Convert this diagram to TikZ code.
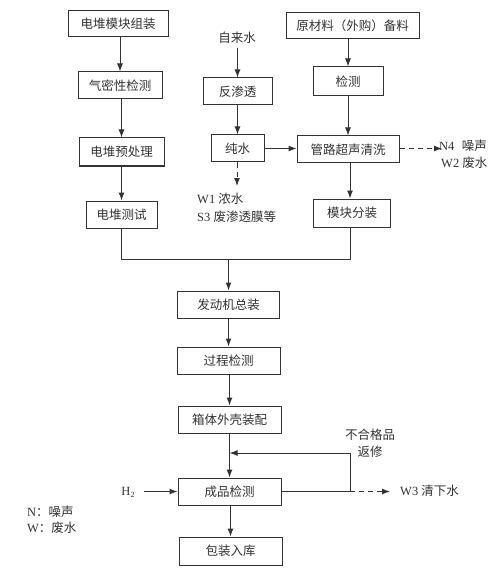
\documentclass[tikz,border=0pt]{standalone}
\usepackage{fontspec}
\setmainfont{Liberation Serif}
\newfontfamily\cjk{Noto Sans CJK SC}
\usetikzlibrary{arrows.meta}
\definecolor{linec}{HTML}{333333}
\definecolor{textc}{HTML}{333333}
\begin{document}
\begin{tikzpicture}[x=1pt,y=-1pt,
  box/.style={draw=linec, line width=1pt, inner sep=0pt, text=textc, font=\cjk\fontsize{12.5}{14}\selectfont},
  lbl/.style={inner sep=0pt, text=textc, font=\fontsize{12.5}{14}\selectfont},
  cl/.style={inner sep=0pt, text=textc, font=\cjk\fontsize{12.5}{14}\selectfont},
  arr/.style={draw=linec, line width=1pt, -{Latex[length=8pt,width=6pt]}},
  ln/.style={draw=linec, line width=1pt},
  dsh/.style={arr, dash pattern=on 5pt off 4pt}]
\useasboundingbox (0,0) rectangle (500,572);
\fill[white] (0,0) rectangle (500,572);
% left column
\node[box, minimum width=100pt, minimum height=26pt] (a) at (118,24) {电堆模块组装};
\node[box, minimum width=84pt, minimum height=27pt] (b) at (120,85.5) {气密性检测};
\node[box, minimum width=85pt, minimum height=28pt] (c) at (121.5,152) {电堆预处理};
\node[box, minimum width=71pt, minimum height=27pt] (d) at (121.5,214.5) {电堆测试};
% middle column
\node[cl] (tap) at (237,38) {自来水};
\node[box, minimum width=69pt, minimum height=27pt] (e) at (237.5,91.5) {反渗透};
\node[box, minimum width=53pt, minimum height=27pt] (f) at (237.5,148.5) {纯水};
\coordinate (fdown) at (237,186);
\node[lbl, anchor=west] (w1) at (197,199) {W1 {\cjk 浓水}};
\node[lbl, anchor=west] (s3) at (197,217) {S3 {\cjk 废渗透膜等}};
% right column
\node[box, minimum width=133pt, minimum height=26pt] (g) at (352.5,26) {原材料（外购）备料};
\node[box, minimum width=70pt, minimum height=29pt] (h) at (348,81.5) {检测};
\node[box, minimum width=102pt, minimum height=27pt] (i) at (348,149.5) {管路超声清洗};
\node[box, minimum width=77pt, minimum height=28pt] (j) at (352,213) {模块分装};
\coordinate (iout) at (442,148.5);
\node[lbl, anchor=west] (n4) at (439,146) {N4\hspace{0.6em}{\cjk 噪声}};
\node[lbl, anchor=west] (w2) at (441,163) {W2 {\cjk 废水}};
% main column
\node[box, minimum width=102pt, minimum height=27pt] (k) at (228.5,304.5) {发动机总装};
\node[box, minimum width=103pt, minimum height=27pt] (l) at (228.5,360.5) {过程检测};
\node[box, minimum width=103pt, minimum height=27pt] (m) at (229.5,419.5) {箱体外壳装配};
\node[box, minimum width=103pt, minimum height=27pt] (n) at (229.5,491.5) {成品检测};
\node[box, minimum width=103pt, minimum height=28pt] (o) at (230.5,551) {包装入库};
% merge
\coordinate (mL) at (121,259);
\coordinate (mR) at (350,259);
\coordinate (mC) at (228.5,259);
% feedback
\coordinate (fb) at (350,491.5);
\coordinate (fbt) at (350,453);
\coordinate (fbl) at (229.5,453);
\coordinate (w3e) at (390,491.5);
\node[lbl, anchor=west] (w3) at (400,491) {W3 {\cjk 清下水}};
\node[cl] (bh1) at (370,435) {不合格品};
\node[cl] (bh2) at (370,452) {返修};
\node[lbl] (h2) at (128,492) {H\raisebox{-0.35ex}{\fontsize{8}{8}\selectfont 2}};
\coordinate (h2e) at (144,491.5);
\node[cl, anchor=west] (lg1) at (27,512) {{\fontfamily{\rmdefault}\selectfont N}：噪声};
\node[cl, anchor=west] (lg2) at (27,528) {{\fontfamily{\rmdefault}\selectfont W}：废水};
% connectors
\draw[arr] (a.south -| b.north) -- (b.north);
\draw[arr] (b.south -| c.north) -- (c.north);
\draw[arr] (c.south -| d.north) -- (d.north);
\draw[arr] (tap.south -| e.north) ++(0,4) -- (e.north);
\draw[arr] (e.south -| f.north) -- (f.north);
\draw[dsh] (f.south -| fdown) -- (fdown);
\draw[arr] (g.south -| h.north) -- (h.north);
\draw[arr] (h.south) -- (i.north);
\draw[arr] (f.east) -- (f.east -| i.west);
\draw[dsh] (i.east |- iout) -- (iout);
\draw[arr] (i.south -| mR) -- (j.north -| mR);
\draw[ln] (d.south -| mL) -- (mL) -- (mR) -- (j.south -| mR);
\draw[arr] (mC) -- (k.north);
\draw[arr] (k.south) -- (l.north);
\draw[arr] (l.south -| m.north) -- (m.north);
\draw[arr] (m.south) -- (n.north);
\draw[arr] (n.south -| o.north) -- (o.north);
\draw[ln] (n.east) -- (fb);
\draw[arr] (fb) -- (fbt) -- (fbl);
\draw[dsh] (fb) -- (w3e);
\draw[arr] (h2e) -- (n.west);
\end{tikzpicture}
\end{document}
